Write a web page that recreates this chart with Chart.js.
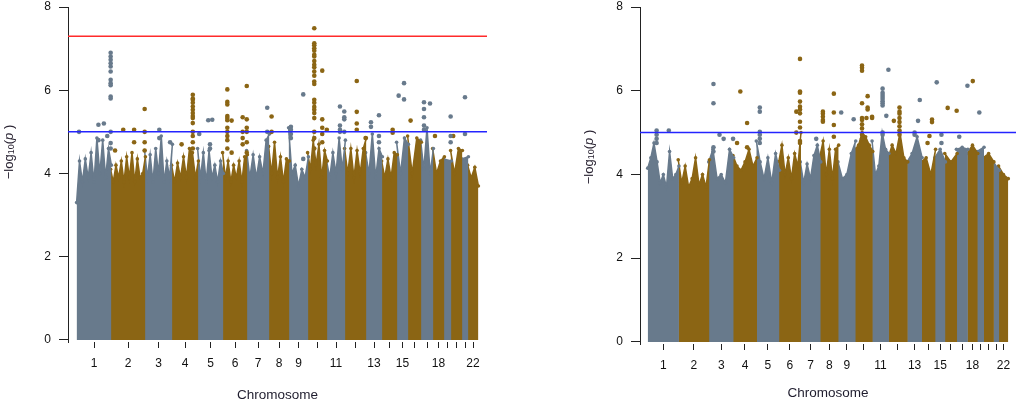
<!DOCTYPE html>
<html>
<head>
<meta charset="utf-8">
<script src="https://cdn.jsdelivr.net/npm/chart.js@4.4.1/dist/chart.umd.min.js"></script>
<style>
    html, body { margin: 0; padding: 0; background: #fff; }
    .wrap { position: relative; width: 1021px; height: 404px; }
    .panel { position: absolute; top: 0; height: 404px; }
</style>
</head>
<body>
<div class="wrap">
    <div class="panel" style="left:0;width:510px"><canvas id="left"></canvas></div>
    <div class="panel" style="left:510px;width:511px"><canvas id="right"></canvas></div>
</div>
<script>
// chromosomes and their share of the x axis (SNP span, arbitrary units)
const chromosomes = ["1","2","3","4","5","6","7","8","9","10","11","12","13","14","15","16","17","18","19","20","21","22"];
const shownLabels = ["1","2","3","4","5","6","7","8","9","11","13","15","18","22"];
const chrSpan = [34,34,27,26,25,24,22,20,19,19,18,21,16,15,11,13,12,11,7,11,6,10];
const yTicks = [0,2,4,6,8];
const genomeWideLine = 7.3;
const suggestiveLine = 5;

// top of the dense SNP cloud along each chromosome, -log10(p)
const cloudLeft = [
    [3.3,4.3,3.8,4.35,3.9,4.5,3.8,4.85,4.0,4.8,3.9,4.6,4.2],
    [4.1,3.8,4.2,3.9,4.3,3.8,4.4,3.9,4.5,3.8,4.35,3.9,4.0,4.4],
    [4.55,3.9,4.45,3.8,4.6,4.0,4.9,3.8,4.3,3.9,4.7],
    [4.2,3.8,4.25,3.9,4.4,3.9,4.6,4.5,3.9,4.3],
    [4.6,3.9,4.5,3.8,4.55,3.9,4.2,3.8,4.3,4.0],
    [4.5,3.9,4.3,3.8,4.2,3.9,4.3,3.8,4.4,4.45],
    [4.55,3.9,4.45,3.9,4.4,4.0,4.8,4.95],
    [4.65,4.0,4.75,3.9,4.4,3.8,4.35,4.3],
    [5.1,4.0,4.2,3.7,4.1,3.9,4.4],
    [4.5,4.1,4.8,4.2,4.7,3.9,4.55,4.3],
    [4.3,3.9,4.5,4.0,4.85,4.1,4.8],
    [4.6,4.0,4.6,3.9,4.55,4.0,4.6,4.85],
    [4.5,4.0,4.95,3.9,4.6,4.4],
    [4.3,3.9,4.35,3.9,4.5,4.45],
    [4.75,4.0,4.85,4.7],
    [4.9,4.0,4.85,4.75],
    [4.8,4.1,5.1,4.0,4.6],
    [4.6,4.0,4.3,4.4],
    [4.35,4.3],
    [4.55,4.0,4.6,4.55],
    [4.35,4.4],
    [4.2,3.9,4.15,3.7]
];
const cloudRight = [
    [4.15,4.4,4.75,4.3,3.8,4.0,3.7,4.55,3.9,4.0,4.2],
    [4.35,3.8,4.2,3.7,3.9,4.4,3.75,4.0,3.7,4.35],
    [4.3,4.6,3.9,4.0,3.8,4.6,4.4],
    [4.45,4.2,4.1,4.3,4.6,4.2,4.4],
    [4.8,4.3,3.9,4.4,3.8,4.5,4.1],
    [4.3,4.7,4.0,4.4,3.9,4.5,4.2,5.0],
    [4.3,3.8,4.25,3.9,4.45,4.7,4.3],
    [4.45,4.8,4.0,4.6,3.9,4.6,4.7],
    [4.3,3.9,4.0,4.5,4.8],
    [4.6,4.7,5.0,4.9,4.7,4.55],
    [4.8,4.0,4.2,5.0,4.6,4.5],
    [4.4,4.7,4.5,5.0,4.4,4.3],
    [4.3,4.5,4.9,4.4],
    [4.3,4.4,4.0,4.6],
    [4.4,4.6,4.3],
    [4.5,4.3,4.5],
    [4.6,4.65,4.6],
    [4.5,4.7,4.5],
    [4.55,4.65],
    [4.4,4.5,4.3],
    [4.3,4.1],
    [4.2,4.0,3.9]
];

// SNPs standing out of the cloud: [chromosome, relative position, -log10(p) values]
const hitsLeft = [
    [1,0.06,[5.0]], [1,0.63,[5.17,4.8]], [1,0.79,[5.2]], [1,0.89,[4.9]],
    [1,0.99,[6.9,6.81,6.73,6.65,6.57,6.45,6.25,6.17,6.12,5.85,5.8,5.0,4.73,4.6]],
    [2,0.12,[4.55]], [2,0.36,[5.05]], [2,0.68,[5.05,4.75]], [2,0.99,[5.55,5.0,4.75,4.55]],
    [3,0.53,[5.05,4.85]], [3,0.93,[4.75]],
    [4,0.37,[4.7]], [4,0.8,[5.89,5.8,5.77,5.7,5.61,5.53,5.45,5.38,5.33,5.21,5.0,4.9,4.75,4.6]],
    [5,0.05,[4.95]], [5,0.41,[5.28]], [5,0.57,[5.29]], [5,0.48,[4.7,4.6]],
    [6,0.18,[6.02,5.72,5.66,5.38,5.33,5.28,5.1,5.0,4.9,4.8,4.6]], [6,0.36,[5.27,4.5]],
    [6,0.82,[5.35,5.0,4.85,4.7]], [6,0.99,[6.1,5.3,5.1,5.0,4.75,4.5]],
    [7,0.92,[5.58,5.0]],
    [8,0.13,[5.37,5.0]],
    [9,0.1,[5.12,5.05,4.95,4.85]], [9,0.75,[5.9,4.35]],
    [10,0.33,[7.49,7.13,7.08,7.01,6.95,6.85,6.81,6.7,6.61,6.55,6.45,6.35,6.21,6.15,5.77,5.7,5.6,5.53,5.45,5.33,5.0,4.85,4.6]],
    [10,0.75,[6.47,5.3,5.1,4.95,4.75]], [10,0.99,[5.05]],
    [11,0.72,[5.61,5.15,5.05,5.0]], [11,0.96,[5.49,5.35,5.3,5.0]],
    [12,0.56,[6.22,5.48,5.2,5.05]], [12,0.98,[4.85]],
    [13,0.31,[5.23,5.12]], [13,0.81,[5.4,4.9,4.75]],
    [14,0.71,[5.05,4.98]],
    [15,0.15,[5.87]], [15,0.64,[6.17,5.78]],
    [16,0.2,[5.27]],
    [17,0.25,[5.71,5.55,5.35,5.15,5.05]], [17,0.75,[5.68]],
    [18,0.18,[4.9]],
    [19,0.95,[5.37,4.9,4.75]],
    [20,0.2,[4.9]],
    [21,0.5,[5.83,4.95]]
];
const hitsRight = [
    [1,0.28,[5.05,4.95,4.85,4.75]], [1,0.68,[5.05]],
    [3,0.18,[6.16,5.7,4.65,4.55]], [3,0.43,[4.95]], [3,0.6,[4.85]], [3,0.99,[4.85]],
    [4,0.16,[4.75]], [4,0.3,[5.98]], [4,0.59,[5.23,4.65]],
    [5,0.14,[5.6,5.5,5.02,4.95,4.85,4.75]],
    [6,0.8,[5.5,5.0]], [6,0.97,[6.76,5.98,5.95,5.74,5.62,5.55,5.46,5.26,5.12,4.8,4.75]],
    [7,0.79,[4.85]],
    [8,0.14,[5.5,5.45,5.38,5.3,5.26]], [8,0.75,[5.93,5.48,5.18,4.9]],
    [9,0.17,[5.48]], [9,0.9,[5.32]],
    [10,0.39,[6.6,6.55,6.48,5.7,5.35,5.3,5.2,5.1,4.95,4.85]], [10,0.65,[5.35]],
    [10,0.72,[5.87,5.6,5.55]], [10,0.98,[5.38,5.35]],
    [11,0.63,[6.05,5.95,5.9,5.85,5.8,5.75,5.7,5.65,5.0,4.95]], [11,0.86,[5.4]], [11,0.99,[6.5]],
    [12,0.28,[5.28]], [12,0.58,[5.6,5.5,5.45,5.35,5.25,5.15,5.05,4.95]],
    [13,0.5,[5.0,4.95]], [13,0.74,[5.28]], [13,0.86,[5.78]],
    [14,0.43,[4.75]], [14,0.57,[4.92]], [14,0.76,[5.31,5.25]],
    [15,0.15,[6.2]], [15,0.63,[4.95,4.75]],
    [16,0.22,[5.59]], [16,0.99,[5.52]],
    [17,0.23,[4.9]], [17,0.99,[6.12]],
    [18,0.53,[6.23]],
    [19,0.3,[5.48]]
];

const GREY = "#687a8c";
const BROWN = "#8b6514";
const FONT = "'Liberation Sans', Arial, sans-serif";

const starts = [];
let total = 0;
chrSpan.forEach((s) => { starts.push(total); total += s; });
const xPad = 9;
const seam = 0.4; // small overlap so neighbouring blocks leave no hairline gap

// -log10(p) axis title with a real subscript
const yLabel = {
    id: "yLabel",
    afterDraw(chart, args, opts) {
        const ctx = chart.ctx;
        const parts = [
            ["\u2212log", "13px " + FONT, 0],
            ["10", "9px " + FONT, 3],
            ["(", "13px " + FONT, 0],
            ["p", "italic 13px " + FONT, 0],
            [" )", "13px " + FONT, 0],
        ];
        ctx.save();
        ctx.translate(opts.x, opts.y);
        ctx.rotate(-Math.PI / 2);
        ctx.fillStyle = "#2a2433";
        ctx.textBaseline = "middle";
        let w = 0;
        parts.forEach((p) => { ctx.font = p[1]; w += ctx.measureText(p[0]).width; });
        let x = -w / 2;
        parts.forEach((p) => {
            ctx.font = p[1];
            ctx.fillText(p[0], x, p[2]);
            x += ctx.measureText(p[0]).width;
        });
        ctx.restore();
    },
};

function manhattan(id, cloud, hits, lines, box) {
    const datasets = [];

    lines.forEach((l) => {
        datasets.push({
            type: "line",
            data: [{ x: -xPad, y: l.value }, { x: total + xPad, y: l.value }],
            borderColor: l.color,
            borderWidth: 1.5,
            pointRadius: 0,
            order: 0,
        });
    });

    const grey = [];
    const brown = [];
    hits.forEach(([chr, pos, vals]) => {
        const i = chr - 1;
        vals.forEach((v) => {
            (i % 2 ? brown : grey).push({ x: starts[i] + pos * chrSpan[i], y: v });
        });
    });
    [[grey, GREY], [brown, BROWN]].forEach(([data, c]) => {
        datasets.push({
            type: "scatter",
            data: data,
            backgroundColor: c,
            borderWidth: 0,
            pointRadius: 2.3,
            order: 1,
        });
    });

    cloud.forEach((vals, i) => {
        const c = i % 2 ? BROWN : GREY;
        const n = vals.length;
        const x0 = starts[i] - seam;
        const w = chrSpan[i] + 2 * seam;
        datasets.push({
            type: "line",
            data: vals.map((v, k) => ({ x: x0 + (w * k) / (n - 1), y: v })),
            borderColor: c,
            backgroundColor: c,
            fill: "origin",
            borderWidth: 1.5,
            tension: 0,
            pointRadius: 1.8,
            pointBorderWidth: 0,
            pointBackgroundColor: c,
            order: 2,
        });
    });

    return new Chart(document.getElementById(id), {
        data: { datasets: datasets },
        plugins: [yLabel],
        options: {
            responsive: true,
            maintainAspectRatio: false,
            animation: false,
            layout: { padding: box.padding },
            plugins: {
                legend: { display: false },
                tooltip: { enabled: false },
                yLabel: box.label,
            },
            scales: {
                x: {
                    type: "linear",
                    min: -xPad,
                    max: total + xPad,
                    afterFit: (s) => { s.height = box.xHeight; },
                    afterBuildTicks: (s) => {
                        s.ticks = chromosomes.map((c, i) => ({ value: starts[i] + chrSpan[i] / 2 }));
                    },
                    ticks: {
                        autoSkip: false,
                        maxRotation: 0,
                        padding: 8,
                        color: "#111",
                        font: { family: FONT, size: 12 },
                        callback: (v, i) => (shownLabels.includes(chromosomes[i]) ? chromosomes[i] : ""),
                    },
                    grid: { drawOnChartArea: false, drawTicks: true, tickLength: 6, color: "#222" },
                    border: { display: false },
                    title: {
                        display: true,
                        text: "Chromosome",
                        color: "#1f1d2e",
                        font: { family: FONT, size: 13.5 },
                        padding: { top: 0, bottom: box.titleBottom },
                    },
                },
                y: {
                    type: "linear",
                    min: -0.05,
                    max: 8,
                    afterFit: (s) => {
                        s.width = box.yWidth;
                        s.paddingTop = 0;
                        s.paddingBottom = 0;
                    },
                    afterBuildTicks: (s) => { s.ticks = yTicks.map((v) => ({ value: v })); },
                    ticks: { padding: 8, color: "#111", font: { family: FONT, size: 12 } },
                    grid: { drawOnChartArea: false, drawTicks: true, tickLength: 9, color: "#222" },
                    border: { display: true, color: "#222", width: 1 },
                },
            },
        },
    });
}

manhattan("left", cloudLeft, hitsLeft,
    [{ value: genomeWideLine, color: "#ff2b2b" }, { value: suggestiveLine, color: "#2424ff" }],
    { padding: { left: 0, right: 23, top: 7, bottom: 0 }, yWidth: 68, xHeight: 62, titleBottom: 1, label: { x: 9, y: 152 } });

manhattan("right", cloudRight, hitsRight,
    [{ value: suggestiveLine, color: "#2424ff" }],
    { padding: { left: 60, right: 5, top: 7, bottom: 0 }, yWidth: 70, xHeight: 60, titleBottom: 3, label: { x: 79, y: 157 } });
</script>
</body>
</html>
